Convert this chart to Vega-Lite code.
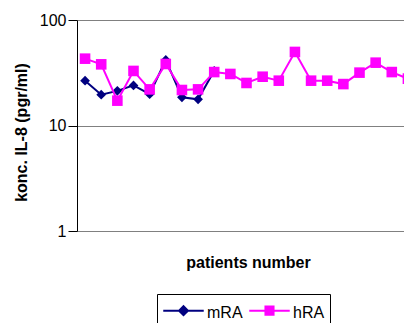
{
  "$schema": "https://vega.github.io/schema/vega-lite/v6.json",
  "width": 339,
  "height": 211,
  "autosize": {"type": "none"},
  "padding": {"left": 77, "top": 20, "right": 0, "bottom": 92},
  "background": "white",
  "config": {
    "view": {"stroke": null},
    "font": "Liberation Sans"
  },
  "data": {
    "values": [
      {"p": 1, "s": "mRA", "v": 26.6}, {"p": 2, "s": "mRA", "v": 19.6}, {"p": 3, "s": "mRA", "v": 21.3},
      {"p": 4, "s": "mRA", "v": 24.0}, {"p": 5, "s": "mRA", "v": 19.8}, {"p": 6, "s": "mRA", "v": 41.8},
      {"p": 7, "s": "mRA", "v": 18.5}, {"p": 8, "s": "mRA", "v": 17.7}, {"p": 9, "s": "mRA", "v": 33.0},
      {"p": 1, "s": "hRA", "v": 43.0}, {"p": 2, "s": "hRA", "v": 38.0}, {"p": 3, "s": "hRA", "v": 17.2},
      {"p": 4, "s": "hRA", "v": 32.9}, {"p": 5, "s": "hRA", "v": 22.0}, {"p": 6, "s": "hRA", "v": 38.3},
      {"p": 7, "s": "hRA", "v": 21.7}, {"p": 8, "s": "hRA", "v": 22.0}, {"p": 9, "s": "hRA", "v": 32.1},
      {"p": 10, "s": "hRA", "v": 30.8}, {"p": 11, "s": "hRA", "v": 25.3}, {"p": 12, "s": "hRA", "v": 29.0},
      {"p": 13, "s": "hRA", "v": 26.6}, {"p": 14, "s": "hRA", "v": 49.8}, {"p": 15, "s": "hRA", "v": 26.6},
      {"p": 16, "s": "hRA", "v": 26.6}, {"p": 17, "s": "hRA", "v": 24.7}, {"p": 18, "s": "hRA", "v": 31.7},
      {"p": 19, "s": "hRA", "v": 39.4}, {"p": 20, "s": "hRA", "v": 32.1}, {"p": 21, "s": "hRA", "v": 27.8}
    ]
  },
  "encoding": {
    "x": {
      "field": "p",
      "type": "ordinal",
      "scale": {"domain": [1,2,3,4,5,6,7,8,9,10,11,12,13,14,15,16,17,18,19,20,21]},
      "axis": {
        "title": "patients number",
        "titleFont": "Liberation Sans",
        "titleFontSize": 16,
        "titleFontWeight": "bold",
        "titleColor": "black",
        "titlePadding": 23,
        "titleX": 171,
        "labels": false,
        "ticks": false,
        "domain": false,
        "grid": false
      }
    },
    "y": {
      "field": "v",
      "type": "quantitative",
      "scale": {"type": "log", "domain": [1, 100], "nice": false},
      "axis": {
        "title": "konc. IL-8 (pgr/ml)",
        "titleFont": "Liberation Sans",
        "titleFontSize": 16,
        "titleFontWeight": "bold",
        "titleColor": "black",
        "titleAngle": -90,
        "titleX": -56,
        "titleY": 112,
        "titleAlign": "center",
        "titleBaseline": "middle",
        "values": [1, 10, 100],
        "labelFont": "Liberation Sans",
        "labelFontSize": 16,
        "labelColor": "black",
        "labelPadding": 2,
        "tickSize": 9,
        "tickColor": "black",
        "domainColor": "black",
        "grid": true,
        "gridColor": "#808080",
        "gridOpacity": 1
      }
    }
  },
  "layer": [
    {
      "transform": [{"filter": "datum.s === 'mRA'"}],
      "mark": {"type": "line", "color": "#000080", "strokeWidth": 2}
    },
    {
      "transform": [{"filter": "datum.s === 'mRA'"}],
      "mark": {"type": "point", "shape": "diamond", "filled": true, "color": "#000080", "size": 95, "opacity": 1}
    },
    {
      "transform": [{"filter": "datum.s === 'hRA'"}],
      "mark": {"type": "line", "color": "#FF00FF", "strokeWidth": 2}
    },
    {
      "transform": [{"filter": "datum.s === 'hRA'"}],
      "mark": {"type": "point", "shape": "square", "filled": true, "color": "#FF00FF", "size": 112, "opacity": 1}
    },
    {
      "mark": {"type": "point", "filled": true, "opacity": 0, "strokeWidth": 2},
      "encoding": {
        "shape": {
          "field": "s", "type": "nominal",
          "scale": {"domain": ["mRA", "hRA"], "range": ["M-1,-0.5H1M0,-0.72L0.22,-0.5L0,-0.28L-0.22,-0.5Z", "M-1,-0.5H1M-0.2,-0.7H0.2V-0.3H-0.2Z"]},
          "legend": {"title": null, "orient": "none", "legendX": 80, "legendY": 274, "direction": "horizontal", "symbolSize": 1640, "symbolStrokeWidth": 2, "symbolOpacity": 1, "labelFont": "Liberation Sans", "labelFontSize": 16, "labelColor": "black", "labelOffset": 2, "columnPadding": 2, "padding": 5, "strokeColor": "black", "fillColor": "white", "labelBaseline": "bottom"}
        },
        "fill": {
          "field": "s", "type": "nominal",
          "scale": {"domain": ["mRA", "hRA"], "range": ["#000080", "#FF00FF"]},
          "legend": {"title": null, "orient": "none", "legendX": 80, "legendY": 274, "direction": "horizontal", "symbolSize": 1640, "symbolStrokeWidth": 2, "symbolOpacity": 1, "labelFont": "Liberation Sans", "labelFontSize": 16, "labelColor": "black", "labelOffset": 2, "columnPadding": 2, "padding": 5, "strokeColor": "black", "fillColor": "white", "labelBaseline": "bottom"}
        },
        "stroke": {
          "field": "s", "type": "nominal",
          "scale": {"domain": ["mRA", "hRA"], "range": ["#000080", "#FF00FF"]},
          "legend": {"title": null, "orient": "none", "legendX": 80, "legendY": 274, "direction": "horizontal", "symbolSize": 1640, "symbolStrokeWidth": 2, "symbolOpacity": 1, "labelFont": "Liberation Sans", "labelFontSize": 16, "labelColor": "black", "labelOffset": 2, "columnPadding": 2, "padding": 5, "strokeColor": "black", "fillColor": "white", "labelBaseline": "bottom"}
        }
      }
    }
  ]
}
